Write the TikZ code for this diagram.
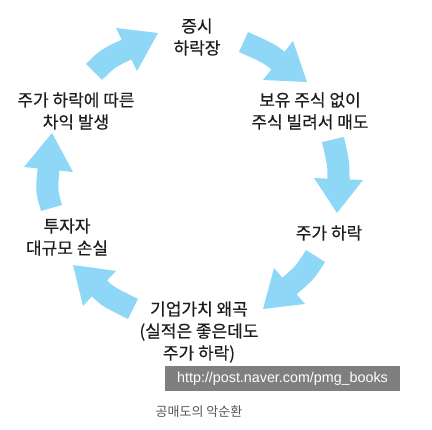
\documentclass[tikz,border=0pt]{standalone}
\usepackage{fontspec}
\newfontfamily\kr[FakeBold=0.5]{Noto Sans CJK KR}
\newfontfamily\krcap{Noto Sans CJK KR}
\newfontfamily\urlfont{Liberation Sans}
\definecolor{arrowblue}{RGB}{142,215,247}
\definecolor{txt}{RGB}{30,28,28}
\definecolor{boxgray}{RGB}{127,127,127}
\definecolor{capgray}{RGB}{85,85,85}
\begin{document}
\begin{tikzpicture}[x=1pt,y=-1pt,
  blockarrow/.style={fill=arrowblue,draw=none},
  label/.style={text=txt,align=center,font=\kr\fontsize{17}{22}\selectfont,inner sep=0pt}]
\useasboundingbox (0,0) rectangle (432,430);
% arrows
\fill[blockarrow] (86,64) .. controls (100,50) .. (121.7,39.6) -- (116,28) -- (158,33) -- (137,71) -- (131.3,59.4) .. controls (114.3,67.7) .. (102,80) -- cycle;
\fill[blockarrow] (248,32) .. controls (274.7,44) .. (284.7,51.7) -- (293,41) -- (307,82) -- (263,80) -- (271.3,69.3) .. controls (262.5,62.5) .. (239,52) -- cycle;
\fill[blockarrow] (322,142) .. controls (327.5,166) .. (327.5,178.6) -- (314,178) -- (337,213) -- (363,180) -- (349.5,179.5) .. controls (349.5,161.2) .. (344,137) -- cycle;
\fill[blockarrow] (306,250) .. controls (295.8,266.1) .. (282.4,277.7) -- (274,268) -- (263,309) -- (305,304) -- (296.6,294.3) .. controls (314.2,279.1) .. (325,262) -- cycle;
\fill[blockarrow] (138,299) .. controls (114,287) .. (107.1,280.5) -- (116,271) -- (73,265) -- (83,306) -- (91.9,296.5) .. controls (101.9,306) .. (128,319) -- cycle;
\fill[blockarrow] (41,211) .. controls (35.4,191.4) .. (37.6,168.4) -- (24,167) -- (52,133) -- (73,172) -- (59.4,170.6) .. controls (57.6,189.6) .. (62,205) -- cycle;
% labels
\node[label] (n1) at (197,37) {증시\\하락장};
\node[label] (n2) at (310,111) {보유 주식 없이\\주식 빌려서 매도};
\node[label] (n3) at (329,233) {주가 하락};
\node[label] (n4) at (199,332) {기업가치 왜곡\\(실적은 좋은데도\\주가 하락)};
\node[label] (n5) at (67,237) {투자자\\대규모 손실};
\node[label] (n6) at (76,111) {주가 하락에 따른\\차익 발생};
% source box
\node[fill=boxgray,text=white,font=\urlfont\fontsize{14.3}{16}\selectfont,minimum width=235pt,minimum height=25pt,inner sep=0pt] (src) at (282.5,378.5) {http://post.naver.com/pmg\_books};
\node[text=capgray,font=\krcap\fontsize{13}{15}\selectfont,inner sep=0pt] (cap) at (199,412) {공매도의 악순환};
\end{tikzpicture}
\end{document}
